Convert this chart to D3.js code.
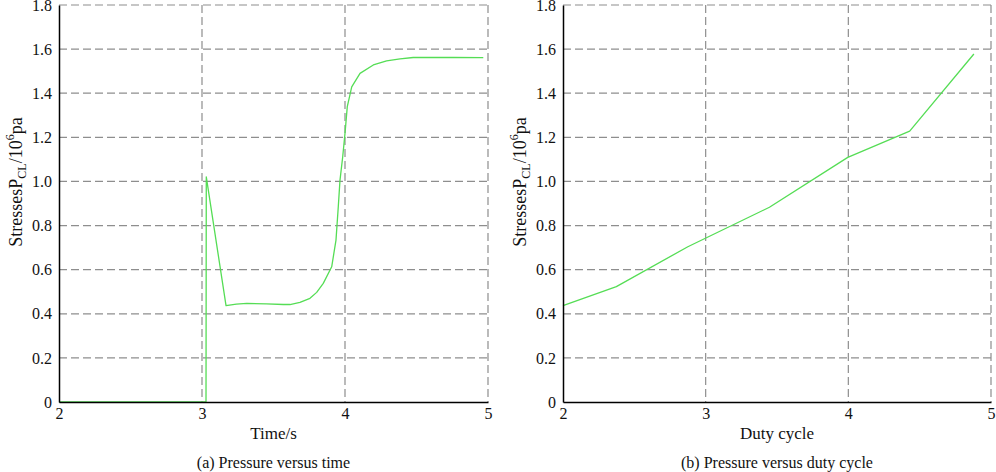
<!DOCTYPE html>
<html>
<head>
<meta charset="utf-8">
<script src="https://cdn.jsdelivr.net/npm/d3@7"></script>
<style>
  body { margin: 0; background: #fff; }
  text { font-family: "Liberation Serif", "Times New Roman", serif; fill: #111; }
</style>
</head>
<body>
<div id="chart"></div>
<script>
// data
var timeX = [2, 3.028, 3.03, 3.168, 3.24, 3.313, 3.45, 3.569, 3.615, 3.685, 3.755, 3.802, 3.848, 3.907, 3.937, 3.953, 3.965, 3.984, 4.0, 4.016, 4.047, 4.105, 4.198, 4.291, 4.385, 4.477, 4.757, 4.967];
var timeY = [0, 0, 1.021, 0.437, 0.444, 0.447, 0.445, 0.442, 0.442, 0.452, 0.47, 0.497, 0.538, 0.613, 0.734, 0.885, 1.006, 1.112, 1.218, 1.339, 1.429, 1.49, 1.528, 1.547, 1.556, 1.562, 1.562, 1.561];

var dutyX = [2.0, 2.374, 2.875, 3.447, 3.996, 4.43, 4.88];
var dutyY = [0.437, 0.523, 0.704, 0.883, 1.109, 1.228, 1.578];

var xTicks = [2, 3, 4, 5];
var yTicks = [0, 0.2, 0.4, 0.6, 0.8, 1.0, 1.2, 1.4, 1.6, 1.8];

var width = 996, height = 472;
var serif = "Liberation Serif, Times New Roman, serif";

var svg = d3.select("#chart")
    .append("svg")
    .attr("width", width)
    .attr("height", height);

var panels = [
    { left: 59, right: 488, xs: timeX, ys: timeY, xTitle: "Time/s", caption: "(a) Pressure versus time", labelX: 22 },
    { left: 563, right: 991, xs: dutyX, ys: dutyY, xTitle: "Duty cycle", caption: "(b) Pressure versus duty cycle", labelX: 526 }
];

var plotTop = 5, plotBottom = 402;

panels.forEach(function (p) {
    var x = d3.scaleLinear().domain([2, 5]).range([p.left, p.right]);
    var y = d3.scaleLinear().domain([0, 1.8]).range([plotBottom, plotTop]);

    var g = svg.append("g");

    // dashed grid
    g.append("g")
        .selectAll("line")
        .data(yTicks.slice(1))
        .enter().append("line")
        .attr("x1", p.left).attr("x2", p.right)
        .attr("y1", function (d) { return y(d); })
        .attr("y2", function (d) { return y(d); })
        .attr("stroke", "#8e8e8e")
        .attr("stroke-width", 1.2)
        .attr("stroke-dasharray", "8,4");

    g.append("g")
        .selectAll("line")
        .data(xTicks.slice(1))
        .enter().append("line")
        .attr("y1", plotTop).attr("y2", plotBottom)
        .attr("x1", function (d) { return x(d); })
        .attr("x2", function (d) { return x(d); })
        .attr("stroke", "#8e8e8e")
        .attr("stroke-width", 1.2)
        .attr("stroke-dasharray", "8,4");

    // curve
    var pts = p.xs.map(function (d, i) { return [d, p.ys[i]]; });
    g.append("path")
        .datum(pts)
        .attr("fill", "none")
        .attr("stroke", "#55dd55")
        .attr("stroke-width", 1.3)
        .attr("stroke-linejoin", "round")
        .attr("d", d3.line()
            .x(function (d) { return x(d[0]); })
            .y(function (d) { return y(d[1]); }));

    // axes
    g.append("g")
        .attr("transform", "translate(0," + plotBottom + ")")
        .call(d3.axisBottom(x).tickValues(xTicks).tickSize(0).tickPadding(6).tickFormat(d3.format("d")))
        .call(function (a) {
            a.attr("font-family", serif).attr("font-size", 16);
            a.select(".domain").attr("stroke", "#000").attr("stroke-width", 1.5);
            a.selectAll("text").attr("fill", "#111");
        });

    g.append("g")
        .attr("transform", "translate(" + p.left + ",0)")
        .call(d3.axisLeft(y).tickValues(yTicks).tickSize(0).tickPadding(7)
            .tickFormat(function (d) { return d === 0 ? "0" : d3.format(".1f")(d); }))
        .call(function (a) {
            a.attr("font-family", serif).attr("font-size", 16);
            a.select(".domain").attr("stroke", "#000").attr("stroke-width", 1.5);
            a.selectAll("text").attr("fill", "#111");
        });

    // titles
    g.append("text")
        .attr("x", (p.left + p.right) / 2)
        .attr("y", 439)
        .attr("text-anchor", "middle")
        .attr("font-family", serif)
        .attr("font-size", 17)
        .text(p.xTitle);

    g.append("text")
        .attr("x", (p.left + p.right) / 2)
        .attr("y", 468)
        .attr("text-anchor", "middle")
        .attr("font-family", serif)
        .attr("font-size", 16)
        .text(p.caption);

    var lab = g.append("text")
        .attr("transform", "translate(" + p.labelX + "," + 182 + ") rotate(-90)")
        .attr("text-anchor", "middle")
        .attr("font-family", serif)
        .attr("font-size", 18);
    lab.append("tspan").text("StressesP");
    lab.append("tspan").attr("font-size", 12).attr("dy", 4).text("CL");
    lab.append("tspan").attr("dy", -4).text("/10");
    lab.append("tspan").attr("font-size", 12).attr("dy", -8).text("6");
    lab.append("tspan").attr("dy", 8).text("pa");
});
</script>
</body>
</html>
